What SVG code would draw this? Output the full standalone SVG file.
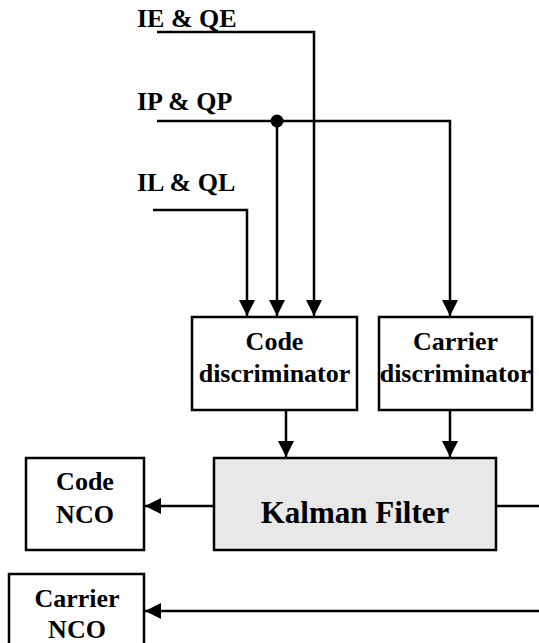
<svg xmlns="http://www.w3.org/2000/svg" width="539" height="643" viewBox="0 0 539 643">
<style>
text{font-family:"Liberation Serif","Times New Roman",serif;font-weight:bold;font-size:26px;fill:#000}
.c{text-anchor:middle}
.box{fill:#fff;stroke:#000;stroke-width:2.5}
.ln{fill:none;stroke:#000;stroke-width:2.5}
</style>
<defs>
<marker id="ah" markerUnits="userSpaceOnUse" markerWidth="16" markerHeight="16" viewBox="0 0 14 14" refX="14" refY="7" orient="auto">
<path d="M0,0 L14,7 L0,14 Z" fill="#000"/>
</marker>
</defs>
<rect width="539" height="643" fill="#fff"/>
<g id="labels">
<text x="137" y="27">IE &amp; QE</text>
<text x="137" y="110">IP &amp; QP</text>
<text x="137" y="191">IL &amp; QL</text>
</g>
<g id="connectors">
<path class="ln" d="M157,32 H314 V316" marker-end="url(#ah)"/>
<path class="ln" d="M157,121 H450 V316" marker-end="url(#ah)"/>
<path class="ln" d="M277,121 V316" marker-end="url(#ah)"/>
<path class="ln" d="M153,210 H247 V316" marker-end="url(#ah)"/>
<path class="ln" d="M286,410 V457" marker-end="url(#ah)"/>
<path class="ln" d="M450,410 V457" marker-end="url(#ah)"/>
<path class="ln" d="M214,506 H145" marker-end="url(#ah)"/>
<path class="ln" d="M496,506 H539"/>
<path class="ln" d="M539,611 H145" marker-end="url(#ah)"/>
<circle cx="277" cy="121" r="6.5" fill="#000"/>
</g>
<g id="code-discriminator">
<rect class="box" x="192" y="317" width="165" height="93"/>
<text class="c" x="274.5" y="350">Code</text>
<text class="c" x="274.5" y="382">discriminator</text>
</g>
<g id="carrier-discriminator">
<rect class="box" x="379" y="317" width="153" height="93"/>
<text class="c" x="455.5" y="350">Carrier</text>
<text class="c" x="455.5" y="382">discriminator</text>
</g>
<g id="kalman-filter">
<rect x="214" y="458" width="282" height="92" fill="#e8e8e8" stroke="#000" stroke-width="2.5"/>
<text class="c" x="355" y="523" style="font-size:31px">Kalman Filter</text>
</g>
<g id="code-nco">
<rect class="box" x="26" y="458" width="118" height="92"/>
<text class="c" x="85" y="490">Code</text>
<text class="c" x="85" y="523">NCO</text>
</g>
<g id="carrier-nco">
<rect class="box" x="9" y="574" width="135" height="80"/>
<text class="c" x="77" y="607">Carrier</text>
<text class="c" x="77" y="638">NCO</text>
</g>
</svg>
